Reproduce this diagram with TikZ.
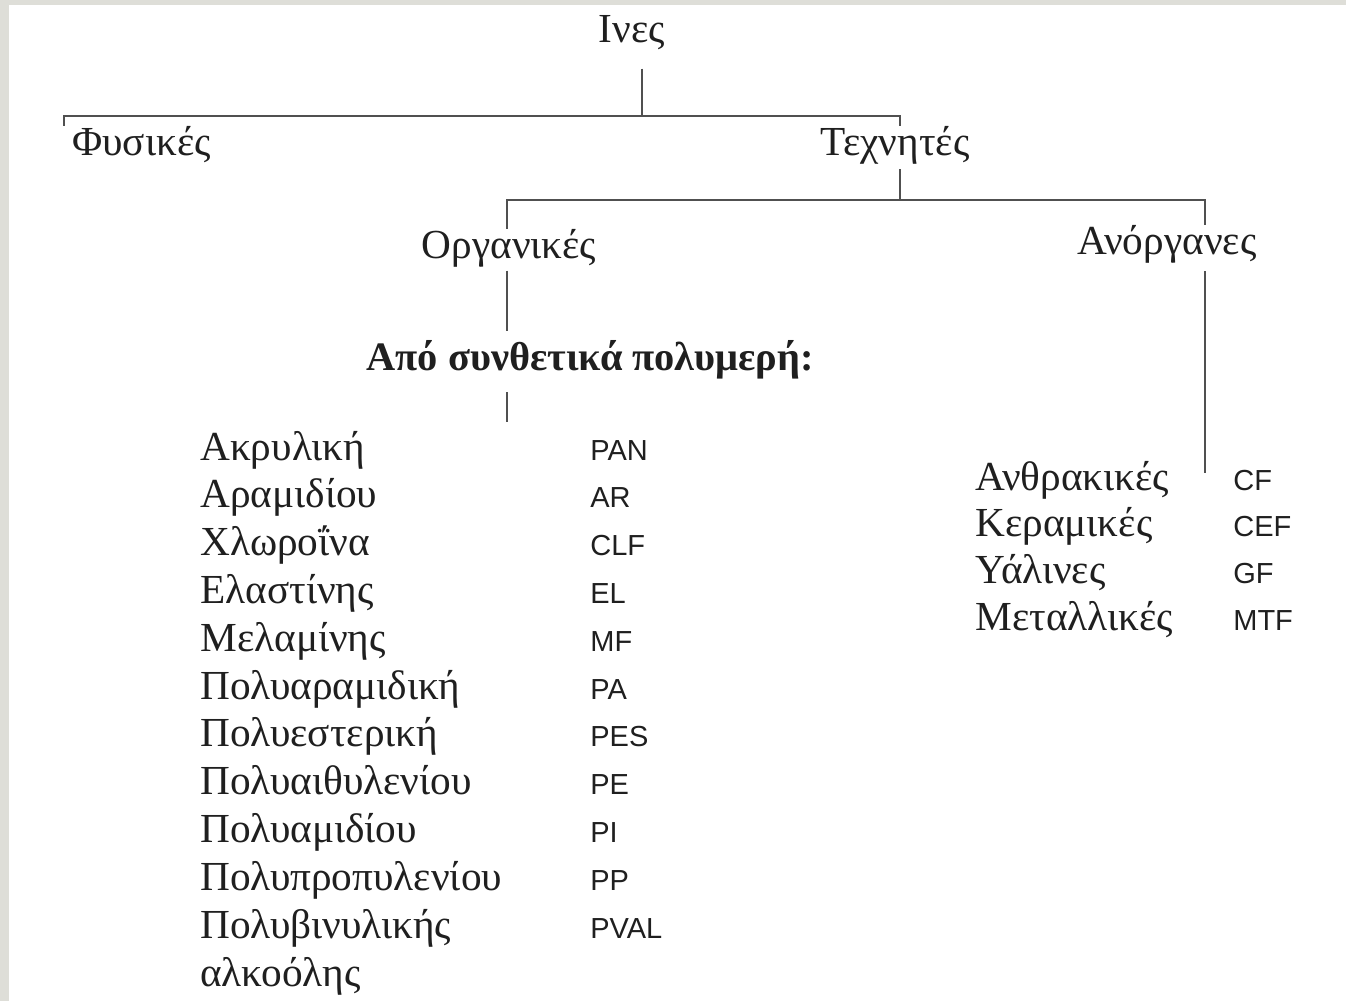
\documentclass[tikz,border=0pt]{standalone}
\usepackage{fontspec}
\setmainfont{Liberation Serif}
\newfontfamily\abbrfont{Liberation Sans}
\usepackage{tikz}
\definecolor{framegray}{RGB}{222,222,216}
\definecolor{linegray}{RGB}{80,80,80}
\tikzset{basic/.style={inner sep=0pt,text=black!88}}
\tikzset{heading/.style={basic,anchor=base,font=\fontsize{23.5}{27}\selectfont}}
\tikzset{fibre/.style={basic,anchor=base west,font=\fontsize{23.5}{27}\selectfont}}
\tikzset{abbr/.style={basic,anchor=base west,font=\abbrfont\fontsize{16.5}{19}\selectfont}}
\tikzset{treeline/.style={draw=linegray,line width=1.3pt}}

\begin{document}
\begin{tikzpicture}[x=0.02cm,y=-0.02cm]
    \useasboundingbox (0,0) rectangle (1346,1001);
    \fill[framegray] (0,0) rectangle (9,1001);
    \fill[framegray] (0,0) rectangle (1346,5);
    % Labels
    \node[heading] (ines) at (632,42) {Ινες};
    \node[heading,anchor=base west] (fysikes) at (72,155) {Φυσικές};
    \node[heading] (texnites) at (895,155) {Τεχνητές};
    \node[heading] (organikes) at (509,258) {Οργανικές};
    \node[heading] (anorganes) at (1167,254) {Ανόργανες};
    \node[heading,font=\fontsize{23}{27}\selectfont\bfseries] (synth) at (590,370)
         {Από συνθετικά πολυμερή:};
    \foreach \f/\a [count=\i] in {Ακρυλική/PAN,Αραμιδίου/AR,Χλωροΐνα/CLF,
          Ελαστίνης/EL,Μελαμίνης/MF,Πολυαραμιδική/PA,Πολυεστερική/PES,
          Πολυαιθυλενίου/PE,Πολυαμιδίου/PI,Πολυπροπυλενίου/PP,
          Πολυβινυλικής/PVAL}{%
          \node[fibre] (f\i) at (200,412.2+\i*47.8) {\f};
          \node[abbr] (fa\i) at (590,412.2+\i*47.8) {\a};
        }
    \node[fibre] (f12) at (200,986) {αλκοόλης};
    \foreach \f/\a [count=\i] in {Ανθρακικές/CF,Κεραμικές/CEF,Υάλινες/GF,
          Μεταλλικές/MTF}{%
          \node[fibre] (a\i) at (975,443.3+\i*46.7) {\f};
          \node[abbr] (aa\i) at (1233,443.3+\i*46.7) {\a};
        }
    % Tree
    \coordinate (top) at (642,116);
    \coordinate (topl) at (64,116);
    \coordinate (topr) at (900,116);
    \coordinate (mid) at (900,200);
    \coordinate (midl) at (507,200);
    \coordinate (midr) at (1205,200);
    \coordinate (inorgend) at (1205,473);
    \draw[treeline] (top |- ines.south) ++(0,19) -- (top);
    \draw[treeline] (topl |- fysikes.north) -- (topl) -- (topr)
                    -- (topr |- texnites.north);
    \draw[treeline,shorten <=3pt] (texnites.south -| mid) -- (mid);
    \draw[treeline] (midl |- organikes.north) -- (midl) -- (midr)
                    -- (midr |- anorganes.north);
    \draw[treeline,shorten <=2pt,shorten >=5pt] (organikes.south -| midl)
                    -- (synth.north -| midl);
    \draw[treeline,shorten <=7.5pt,shorten >=5pt] (synth.south -| midl)
                    -- (f1.north -| midl);
    \draw[treeline,shorten <=4.5pt] (anorganes.south -| midr) -- (inorgend);
\end{tikzpicture}
\end{document}
